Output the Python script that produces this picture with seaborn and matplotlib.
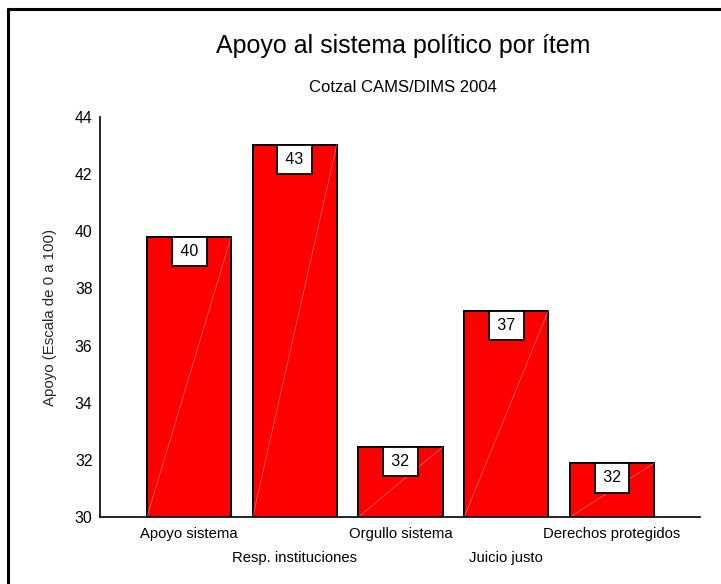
import matplotlib
matplotlib.use("Agg")
import matplotlib.pyplot as plt
from matplotlib.lines import Line2D
import seaborn as sns
import pandas as pd

# data
items = ["Apoyo sistema", "Resp. instituciones", "Orgullo sistema",
         "Juicio justo", "Derechos protegidos"]
apoyo = [39.8, 43.03, 32.45, 37.22, 31.88]

title = "Apoyo al sistema político por ítem"
subtitle = "Cotzal CAMS/DIMS 2004"
ylabel = "Apoyo (Escala de 0 a 100)"

sns.set_theme(style="white")
plt.rcParams["font.family"] = ["Liberation Sans", "DejaVu Sans"]

df = pd.DataFrame({"item": items, "apoyo": apoyo})

fig = plt.figure(figsize=(7.21, 5.84), dpi=100)
ax = fig.add_axes([100 / 721, 1 - 517 / 584, 600 / 721, 400 / 584])

sns.barplot(data=df, x="item", y="apoyo", color="#FF0000", saturation=1,
            width=0.795, edgecolor="black", linewidth=1.4, ax=ax)

ax.set_ylim(30, 44)
ax.set_xlim(-0.842, 4.832)
ax.set_yticks(range(30, 45, 2))
ax.set_xlabel("")
ax.set_ylabel(ylabel, fontsize=10.8, labelpad=13)

for s in ["top", "right"]:
    ax.spines[s].set_visible(False)
for s in ["left", "bottom"]:
    ax.spines[s].set_color("black")
    ax.spines[s].set_linewidth(1.2)

ax.tick_params(axis="both", direction="out", length=2.5, width=2.5,
               color="black", labelcolor="black")
ax.tick_params(axis="y", pad=3, labelsize=11.3)
ax.tick_params(axis="x", pad=5, labelsize=10.7)

# staggered category labels
for i, lab in enumerate(ax.get_xticklabels()):
    if i % 2 == 1:
        lab.set_y(-0.06)

# faint diagonal inside each bar, plus value boxes
for patch, val in zip(ax.patches, apoyo):
    x0 = patch.get_x()
    w = patch.get_width()
    ax.plot([x0, x0 + w], [30, val], color="white", lw=0.5, alpha=0.45,
            zorder=patch.get_zorder() + 0.1)
    ax.annotate(f"\u200a{val:.0f}\u200a", xy=(x0 + w / 2, val), xytext=(0, -10.5),
                textcoords="offset points", ha="center", va="center",
                fontsize=11.5, color="black", zorder=5,
                bbox=dict(boxstyle="square,pad=0.45", fc="white",
                          ec="black", lw=1.3))

fig.text(403 / 721, 1 - 46 / 584, title, ha="center", va="center",
         fontsize=18, color="black")
fig.text(403 / 721, 1 - 88 / 584, subtitle, ha="center", va="center",
         fontsize=12, color="black")

# page frame around the chart
fig.add_artist(Line2D([8 / 721, 8 / 721], [0, 1 - 9 / 584], color="black", lw=2.2))
fig.add_artist(Line2D([8 / 721, 1], [1 - 9 / 584, 1 - 9 / 584], color="black", lw=2.2))

fig.savefig("out.png", dpi=100)
